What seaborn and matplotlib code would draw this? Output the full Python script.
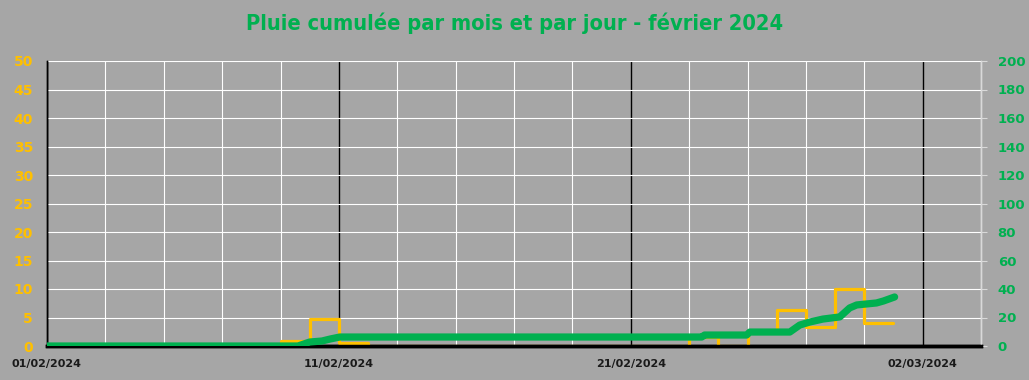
import numpy as np
import pandas as pd
import matplotlib
matplotlib.use("Agg")
import matplotlib.pyplot as plt
import matplotlib.dates as mdates
import seaborn as sns

# Pluie journaliere (mm), une valeur par jour du 01/02 au 01/03 (derniere = fin de palier)
jours = pd.date_range("2024-02-01", "2024-03-01", freq="D")
pluie_jour = [0, 0, 0, 0, 0, 0, 0, 0, 0.9, 4.7,
              0.5, 0, 0, 0, 0, 0, 0, 0, 0, 0,
              0, 0, 1.5, 0, 2.4, 6.3, 3.3, 10.0, 4.0, 4.0]

cumul_jours = [0, 8.6, 9.0, 9.42, 9.7, 10.03, 22.43, 22.53, 23.97, 24.08,
               25.45, 25.79, 26.13, 26.58, 27.16, 27.5, 27.74, 28.42, 28.66, 29.04]
cumul_pluie = [0, 0, 2.8, 3.5, 4.9, 6.3, 6.3, 7.7, 7.7, 9.8,
               9.8, 14.7, 16.8, 18.9, 20.4, 26.7, 28.8, 30.2, 31.6, 34.4]

dates_ticks = ["2024-02-01", "2024-02-11", "2024-02-21", "2024-03-02"]
titre = "Pluie cumulée par mois et par jour - février 2024"

df_jour = pd.DataFrame({"date": jours, "pluie": pluie_jour})
df_cumul = pd.DataFrame({
    "date": pd.Timestamp("2024-02-01") + pd.to_timedelta(cumul_jours, unit="D"),
    "cumul": cumul_pluie,
})

gris = "#a6a6a6"
jaune = "#ffc000"
vert = "#00b050"

sns.set_style("white")
plt.rcParams["font.family"] = ["DejaVu Sans"]

fig = plt.figure(figsize=(10.29, 3.8), dpi=100, facecolor=gris)
ax = fig.add_axes([47 / 1029, 1 - 346 / 380, 934 / 1029, 285 / 380])
ax.set_facecolor(gris)

sns.lineplot(data=df_jour, x="date", y="pluie", ax=ax, color=jaune,
             linewidth=2.3, drawstyle="steps-post", zorder=3)

ax2 = ax.twinx()
sns.lineplot(data=df_cumul, x="date", y="cumul", ax=ax2, color=vert,
             linewidth=5.2, solid_capstyle="round", solid_joinstyle="round", zorder=4)

debut = pd.Timestamp("2024-02-01")
ax.set_xlim(debut, debut + pd.Timedelta(days=32))
ax.set_ylim(0, 50)
ax2.set_ylim(0, 200)

# grilles
ax.set_yticks(np.arange(0, 51, 5))
ax2.set_yticks(np.arange(0, 201, 20))
ax.set_xticks(pd.to_datetime(dates_ticks))
ax.set_xticks(pd.date_range(debut, periods=17, freq="2D"), minor=True)
ax.xaxis.set_major_formatter(mdates.DateFormatter("%d/%m/%Y"))
ax.grid(axis="y", color="white", linewidth=0.8)
ax.grid(axis="x", which="minor", color="white", linewidth=0.8)
ax.grid(axis="x", which="major", color="black", linewidth=1.0)
ax.set_axisbelow(True)
ax2.grid(False)

ax.tick_params(axis="y", length=0, pad=10, labelcolor=jaune, labelsize=10)
ax.tick_params(axis="x", which="both", length=0, pad=9, labelsize=8, labelcolor="#1a1a1a")
ax2.tick_params(axis="y", length=4, color="#d9d9d9", pad=8, labelcolor=vert, labelsize=9.5)
for lab in ax.get_yticklabels() + ax.get_xticklabels() + ax2.get_yticklabels():
    lab.set_fontweight("bold")

ax.set_xlabel("")
ax.set_ylabel("")
ax2.set_ylabel("")

for a in (ax, ax2):
    a.spines["top"].set_visible(False)
    a.spines["left"].set_color("black")
    a.spines["left"].set_linewidth(1.0)
    a.spines["right"].set_color("#d9d9d9")
    a.spines["right"].set_linewidth(1.0)
    a.spines["bottom"].set_color("black")
    a.spines["bottom"].set_linewidth(2.5)

fig.text(515 / 1029, 1 - 23 / 380, titre, ha="center", va="center",
         color=vert, fontsize=15.7, fontweight="bold", fontstretch="condensed",
         family=["DejaVu Sans"])

fig.savefig("out.png", dpi=100, facecolor=gris)
